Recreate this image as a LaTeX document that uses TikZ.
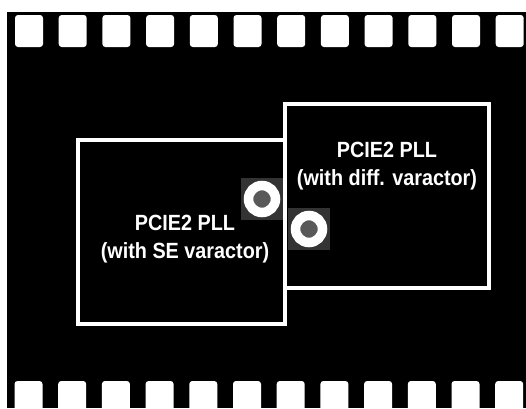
\documentclass[tikz,border=0pt]{standalone}
\usepackage{fontspec}
\setmainfont{Liberation Sans}
\newfontfamily\pllfont{Liberation Sans}[FakeStretch=0.9]
\usetikzlibrary{positioning}
\tikzset{
  hole/.style={rectangle,fill=white,rounded corners=3pt,minimum width=28pt,minimum height=32pt,inner sep=0pt},
  block/.style={rectangle,draw=white,fill=black,line width=4.5pt,inner sep=0pt},
  boxtext/.style={text=white,align=center,inner sep=0pt,font=\pllfont\bfseries\fontsize{22}{28}\selectfont},
  halo/.style={rectangle,fill=black!80,minimum size=42pt,inner sep=0pt},
  pad/.style={circle,draw=white,fill=black!65,line width=9.5pt,minimum size=27pt,inner sep=0pt}
}

\begin{document}
\begin{tikzpicture}[x=1pt,y=-1pt]
\useasboundingbox (0,0) rectangle (526,408);
\fill[white] (0,0) rectangle (526,408);
\clip (0,0) rectangle (526,408);
\fill[black] (7,12) rectangle (526,408);
% sprocket holes
\foreach \i in {0,...,11} {
  \node[hole] (top\i) at ({29+43.7*\i},31) {};
  \node[hole] (bot\i) at ({28.5+43.7*\i},397) {};
}
% the two PLL blocks
\node[block,minimum width=207pt,minimum height=184pt] (seblock) at (181.5,232) {};
\node[block,minimum width=204pt,minimum height=184pt] (diffblock) at (387,196) {};
\node[boxtext] (setext) at (185,239) {PCIE2 PLL\\(with SE varactor)};
\node[boxtext] (difftext) at (387,166) {PCIE2 PLL\\(with diff. varactor)};
% pads
\node[halo] (halo1) at (262,199) {};
\node[halo] (halo2) at (309,229) {};
\node[pad] (pad1) at (262,199) {};
\node[pad] (pad2) at (309,229) {};
\end{tikzpicture}
\end{document}
